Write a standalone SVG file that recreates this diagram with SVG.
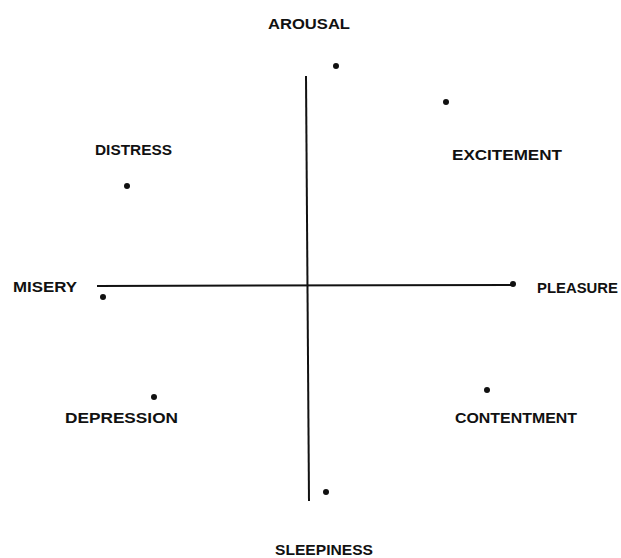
<svg xmlns="http://www.w3.org/2000/svg" width="621" height="558" viewBox="0 0 621 558">
<style>
.lbl{font-family:"Liberation Sans","DejaVu Sans",sans-serif;font-size:15px;font-weight:bold;fill:#111;}
.ax{stroke:#111;stroke-width:2;fill:none;}
.dot{fill:#111;}
</style>
<rect width="621" height="558" fill="#fff"/>
<g id="axes">
<line class="ax" x1="306" y1="76" x2="309" y2="501"/>
<line class="ax" x1="97" y1="286" x2="515" y2="285"/>
</g>
<g id="arousal"><circle class="dot" cx="336" cy="66" r="3"/><text class="lbl" x="268" y="29" textLength="82" lengthAdjust="spacingAndGlyphs">AROUSAL</text></g>
<g id="excitement"><circle class="dot" cx="446" cy="102" r="3"/><text class="lbl" x="452" y="160" textLength="110" lengthAdjust="spacingAndGlyphs">EXCITEMENT</text></g>
<g id="distress"><circle class="dot" cx="127" cy="186" r="3"/><text class="lbl" x="95" y="155" textLength="77" lengthAdjust="spacingAndGlyphs">DISTRESS</text></g>
<g id="misery"><circle class="dot" cx="103" cy="297" r="3"/><text class="lbl" x="13" y="292" textLength="64" lengthAdjust="spacingAndGlyphs">MISERY</text></g>
<g id="pleasure"><circle class="dot" cx="513" cy="284" r="3"/><text class="lbl" x="537" y="293" textLength="81" lengthAdjust="spacingAndGlyphs">PLEASURE</text></g>
<g id="contentment"><circle class="dot" cx="487" cy="390" r="3"/><text class="lbl" x="455" y="423" textLength="122" lengthAdjust="spacingAndGlyphs">CONTENTMENT</text></g>
<g id="depression"><circle class="dot" cx="154" cy="397" r="3"/><text class="lbl" x="65" y="423" textLength="113" lengthAdjust="spacingAndGlyphs">DEPRESSION</text></g>
<g id="sleepiness"><circle class="dot" cx="326" cy="492" r="3"/><text class="lbl" x="275" y="555" textLength="98" lengthAdjust="spacingAndGlyphs">SLEEPINESS</text></g>
</svg>
